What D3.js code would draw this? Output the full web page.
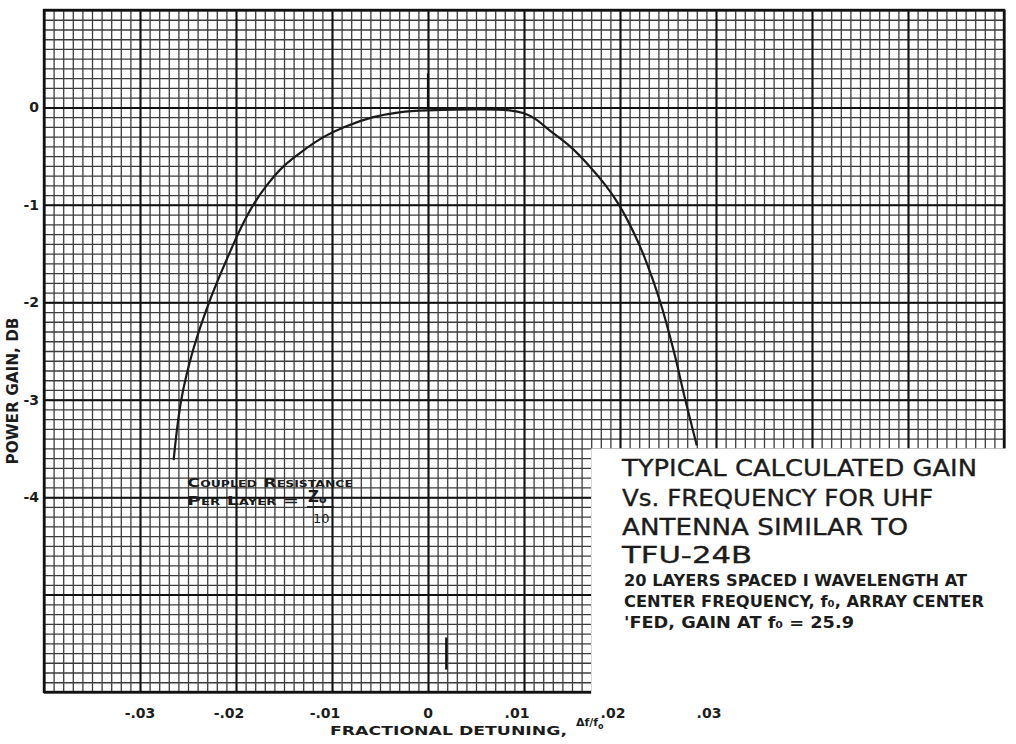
<!DOCTYPE html>
<html>
<head>
<meta charset="utf-8">
<script src="https://cdn.jsdelivr.net/npm/d3@7"></script>
<style>
  body { margin: 0; background: #fff; }
  text { font-family: "DejaVu Sans", sans-serif; fill: #1c1c1c; }
</style>
</head>
<body>
<div id="chart"></div>
<script>
// values: fractional detuning -> power gain (dB)
var detuning = [-0.0265, -0.0257, -0.0245, -0.0228, -0.0207, -0.0193, -0.0182, -0.0168, -0.0150, -0.0131,
    -0.0108, -0.0087, -0.0057, -0.0030, 0.0, 0.0085, 0.0100, 0.0112, 0.0126, 0.0148, 0.0168, 0.0185,
    0.0199, 0.0215, 0.0228, 0.0242, 0.0256, 0.0268, 0.0280];
var gainDb = [-3.62, -3.0, -2.5, -2.0, -1.5, -1.2, -1.0, -0.8, -0.6, -0.45,
    -0.3, -0.2, -0.1, -0.05, -0.03, -0.03, -0.06, -0.12, -0.23, -0.4, -0.6, -0.8,
    -1.0, -1.3, -1.6, -2.0, -2.5, -3.0, -3.47];

var xTickValues = [-0.03, -0.02, -0.01, 0, 0.01, 0.02, 0.03];
var xTickLabels = ["-.03", "-.02", "-.01", "0", ".01", ".02", ".03"];
var yTickValues = [0, -1, -2, -3, -4];
var yTickLabels = ["0", "-1", "-2", "-3", "-4"];

// pencil marks on the sheet (detuning, gain from, gain to)
var pencilX = [0, 0.0019];
var pencilFrom = [0.35, -5.44];
var pencilTo = [0, -5.77];

var titleLines = ["TYPICAL CALCULATED GAIN", "Vs. FREQUENCY FOR UHF", "ANTENNA SIMILAR TO", "TFU-24B"];
var noteLines = ["20 LAYERS SPACED I WAVELENGTH AT", "CENTER FREQUENCY, f₀, ARRAY CENTER", "'FED, GAIN AT f₀ = 25.9"];

// set the dimensions and margins of the graph
var margin = { top: 10, right: 12, bottom: 52, left: 44 },
    width = 1016 - margin.left - margin.right,
    height = 744 - margin.top - margin.bottom;

var root = d3.select("#chart")
    .append("svg")
    .attr("width", 1016)
    .attr("height", 744);

var svg = root.append("g")
    .attr("transform", "translate(" + margin.left + "," + margin.top + ")");

var x = d3.scaleLinear()
    .domain([-0.04, 0.06])
    .range([0, width]);

var y = d3.scaleLinear()
    .domain([1, -6])
    .range([0, height]);

// graph paper: 10 small squares per heavy square
var minorX = d3.range(-40, 61).map(d => d / 1000);
var minorY = d3.range(-60, 11).map(d => d / 10);
var majorX = d3.range(-4, 7).map(d => d / 100);
var majorY = d3.range(-6, 2);

function gridLayer(cls, xs, ys, colour, w) {
    var g = svg.append("g").attr("class", cls);
    g.append("g")
        .attr("transform", "translate(0," + height + ")")
        .call(d3.axisBottom(x).tickValues(xs).tickSize(-height).tickFormat(""));
    g.append("g")
        .call(d3.axisLeft(y).tickValues(ys).tickSize(-width).tickFormat(""));
    g.selectAll(".domain").remove();
    g.selectAll("line")
        .style("stroke", colour)
        .style("stroke-width", w);
}

gridLayer("grid-minor", minorX, minorY, "#3c3c3c", 1.3);
gridLayer("grid-major", majorX, majorY, "#111", 2);

svg.append("rect")
    .attr("width", width)
    .attr("height", height)
    .style("fill", "none")
    .style("stroke", "#111")
    .style("stroke-width", 2.4);

// pencil marks
svg.selectAll("line.pencil")
    .data(pencilX)
    .enter()
    .append("line")
    .attr("class", "pencil")
    .attr("x1", d => x(d))
    .attr("x2", d => x(d))
    .attr("y1", (d, i) => y(pencilFrom[i]))
    .attr("y2", (d, i) => y(pencilTo[i]))
    .style("stroke", "#111")
    .style("stroke-width", 2.2);

// the gain curve
var points = detuning.map((d, i) => [d, gainDb[i]]);
var line = d3.line()
    .x(d => x(d[0]))
    .y(d => y(d[1]))
    .curve(d3.curveCatmullRom.alpha(0.5));

svg.append("path")
    .datum(points)
    .attr("d", line)
    .style("fill", "none")
    .style("stroke", "#1a1a1a")
    .style("stroke-width", 2.2);

// annotation inside the grid
var note = svg.append("g")
    .attr("transform", "translate(" + (187 - margin.left) + "," + (487 - margin.top) + ")");
note.append("text")
    .style("font-size", "13px")
    .style("font-weight", "bold")
    .style("font-variant", "small-caps")
    .attr("textLength", 166)
    .attr("lengthAdjust", "spacingAndGlyphs")
    .text("Coupled Resistance");
note.append("text")
    .attr("y", 18)
    .style("font-size", "13px")
    .style("font-weight", "bold")
    .style("font-variant", "small-caps")
    .attr("textLength", 112)
    .attr("lengthAdjust", "spacingAndGlyphs")
    .text("Per Layer =");
var zText = note.append("text")
    .attr("x", 121)
    .attr("y", 15)
    .style("font-size", "15px")
    .style("font-weight", "bold");
zText.append("tspan").text("Z");
zText.append("tspan")
    .attr("dy", 1)
    .style("font-size", "11px")
    .text("o");
note.append("line")
    .attr("x1", 120)
    .attr("x2", 147)
    .attr("y1", 20)
    .attr("y2", 20)
    .style("stroke", "#1c1c1c")
    .style("stroke-width", 1.8);
note.append("text")
    .attr("x", 126)
    .attr("y", 36)
    .style("font-size", "13px")
    .text("10");

// white title block over the lower right corner of the sheet
svg.append("rect")
    .attr("x", x(0.017))
    .attr("y", y(-3.5))
    .attr("width", 1016)
    .attr("height", 744)
    .style("fill", "#fff");

// tick labels
svg.selectAll("text.xlab")
    .data(xTickValues)
    .enter()
    .append("text")
    .attr("class", "xlab")
    .attr("x", d => x(d) + (d === 0 || d === -0.03 ? 0 : -7))
    .attr("y", height + 26)
    .style("text-anchor", "middle")
    .style("font-size", "14px")
    .style("font-weight", "bold")
    .text((d, i) => xTickLabels[i]);

svg.selectAll("text.ylab")
    .data(yTickValues)
    .enter()
    .append("text")
    .attr("class", "ylab")
    .attr("x", -5)
    .attr("y", d => y(d))
    .attr("dy", "0.36em")
    .style("text-anchor", "end")
    .style("font-size", "14px")
    .style("font-weight", "bold")
    .text((d, i) => yTickLabels[i]);

// axis titles
root.append("text")
    .attr("transform", "translate(18,391) rotate(-90)")
    .style("text-anchor", "middle")
    .style("font-size", "15px")
    .style("font-weight", "bold")
    .attr("textLength", 147)
    .attr("lengthAdjust", "spacingAndGlyphs")
    .text("POWER GAIN, DB");

var xTitle = root.append("text")
    .attr("x", 330)
    .attr("y", 735)
    .style("font-size", "13px")
    .style("font-weight", "bold");
xTitle.append("tspan")
    .attr("textLength", 237)
    .attr("lengthAdjust", "spacingAndGlyphs")
    .text("FRACTIONAL DETUNING,");
xTitle.append("tspan")
    .attr("x", 576)
    .attr("y", 726)
    .style("font-size", "11px")
    .text("Δf/f");
xTitle.append("tspan")
    .attr("dy", 3)
    .style("font-size", "8px")
    .text("o");

var titleLen = [355, 311, 286, 130];
var titleBase = [476, 506, 535, 563];
root.selectAll("text.title")
    .data(titleLines)
    .enter()
    .append("text")
    .attr("class", "title")
    .attr("x", 622)
    .attr("y", (d, i) => titleBase[i])
    .attr("textLength", (d, i) => titleLen[i])
    .attr("lengthAdjust", "spacingAndGlyphs")
    .style("font-size", "23px")
    .style("stroke", "#1c1c1c")
    .style("stroke-width", 0.35)
    .text(d => d);

var noteLen = [343, 360, 230];
var noteBase = [586, 607, 628];
root.selectAll("text.sub")
    .data(noteLines)
    .enter()
    .append("text")
    .attr("class", "sub")
    .attr("x", 624)
    .attr("y", (d, i) => noteBase[i])
    .attr("textLength", (d, i) => noteLen[i])
    .attr("lengthAdjust", "spacingAndGlyphs")
    .style("font-size", "15px")
    .style("font-weight", "bold")
    .text(d => d);
</script>
</body>
</html>
